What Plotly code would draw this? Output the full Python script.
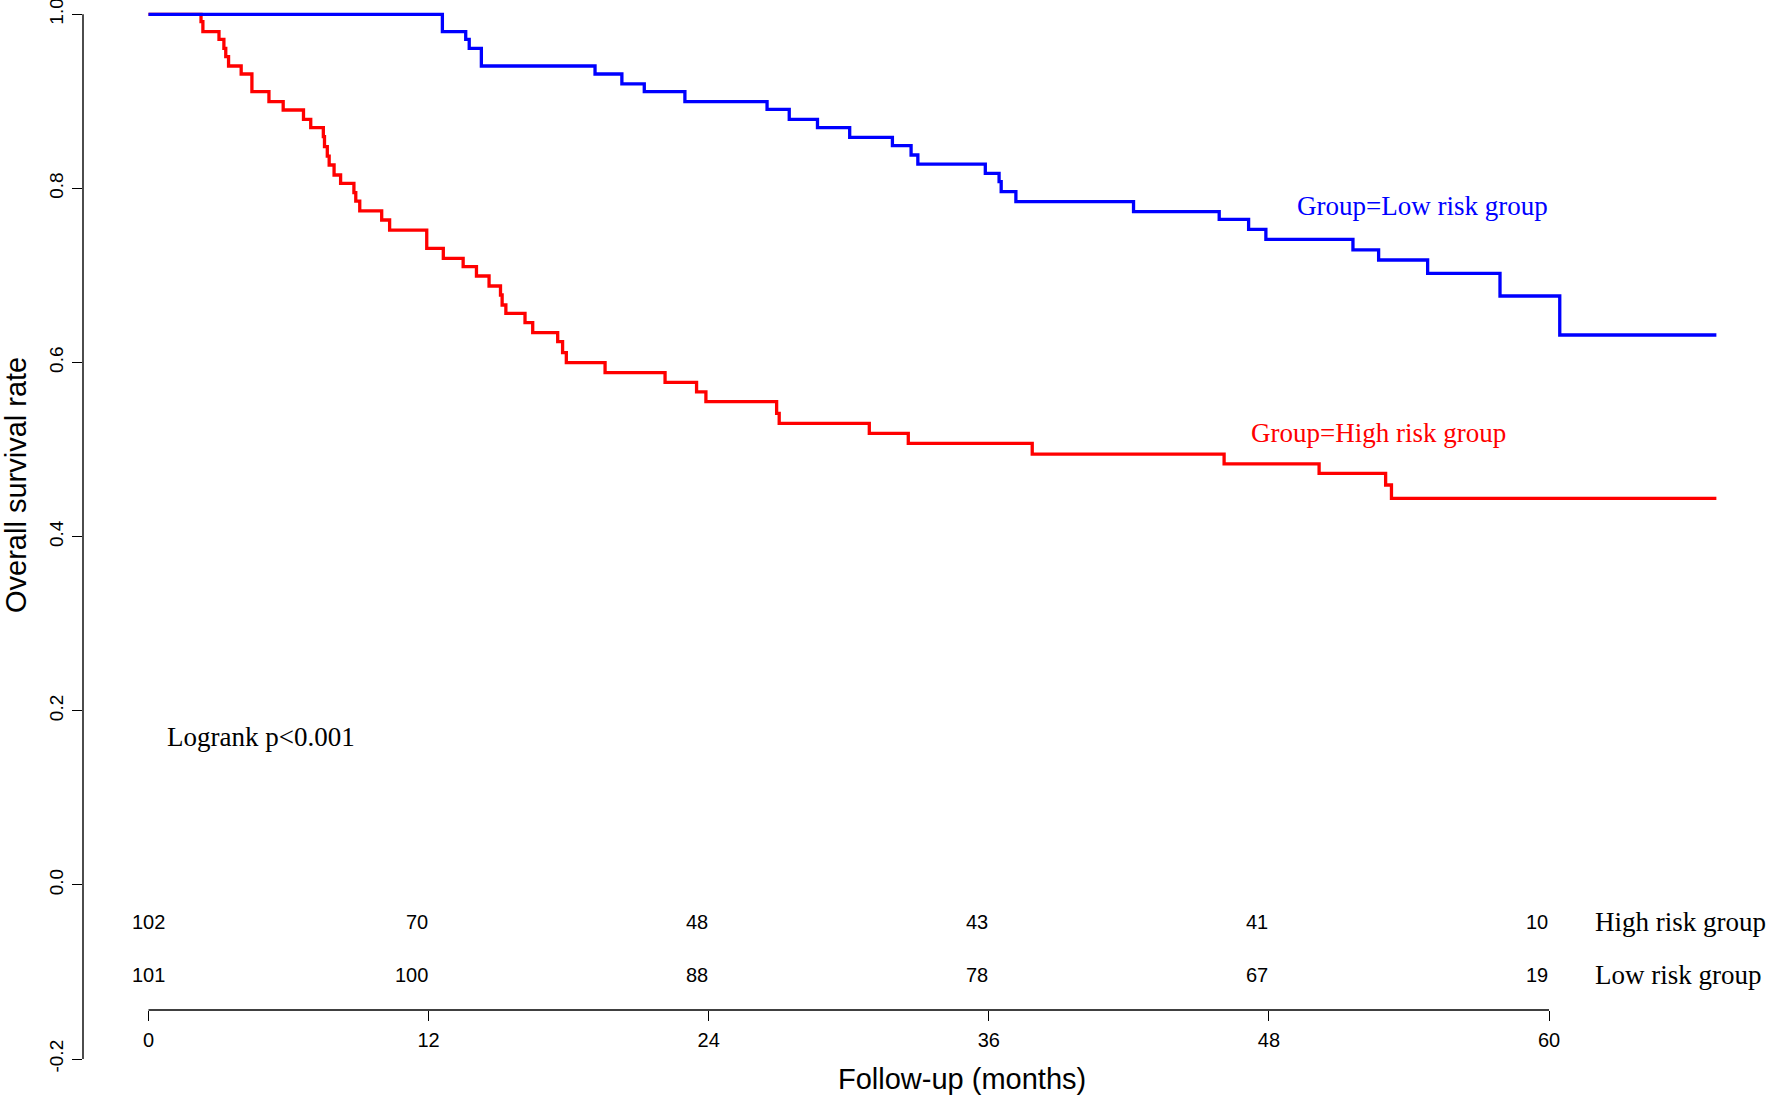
import plotly.graph_objects as go

# ---------------- data ----------------
month_ticks = [0, 12, 24, 36, 48, 60]
surv_ticks = [-0.2, 0.0, 0.2, 0.4, 0.6, 0.8, 1.0]
surv_tick_labels = ["-0.2", "0.0", "0.2", "0.4", "0.6", "0.8", "1.0"]

end_time = 67.17

high_time = [0, 2.25, 2.33, 3.02, 3.23, 3.31, 3.43, 3.97, 4.43, 5.16, 5.77, 6.64,
             6.95, 7.49, 7.54, 7.66, 7.74, 7.95, 8.23, 8.80, 8.88, 9.05, 9.99,
             10.33, 11.92, 12.63, 13.48, 14.05, 14.59, 15.08, 15.15, 15.31, 16.13,
             16.46, 17.53, 17.74, 17.90, 19.56, 22.13, 23.48, 23.88, 26.91, 27.02,
             30.88, 32.55, 37.86, 46.08, 50.15, 53.00, 53.25]
high_surv = [1.0, 0.9915, 0.980, 0.9712, 0.9609, 0.9513, 0.9406, 0.9314, 0.9111,
             0.8996, 0.8901, 0.8794, 0.8698, 0.8594, 0.8480, 0.8372, 0.8269, 0.8154,
             0.8058, 0.7951, 0.7855, 0.7741, 0.7637, 0.7522, 0.7312, 0.7197, 0.7101,
             0.6994, 0.6879, 0.6776, 0.6661, 0.6565, 0.6458, 0.6343, 0.6240, 0.6113,
             0.5998, 0.5883, 0.5773, 0.5662, 0.5550, 0.5417, 0.5300, 0.5187, 0.5072,
             0.4949, 0.4835, 0.4727, 0.4593, 0.4440]

low_time = [0, 12.59, 13.59, 13.74, 14.26, 19.13, 20.28, 21.24, 22.98, 26.50, 27.45,
            28.66, 30.04, 31.87, 32.67, 32.96, 35.85, 36.44, 36.53, 37.16, 42.20,
            45.87, 47.13, 47.87, 51.60, 52.70, 54.80, 57.90, 60.46]
low_surv = [1.0, 0.980, 0.9712, 0.9609, 0.9406, 0.9314, 0.920, 0.9111, 0.8996, 0.8908,
            0.8794, 0.8698, 0.8587, 0.8491, 0.8384, 0.8280, 0.8173, 0.8078, 0.7963,
            0.7848, 0.7733, 0.7645, 0.7530, 0.7415, 0.7293, 0.7178, 0.7025, 0.6764,
            0.6316]

group_names = ["High risk group", "Low risk group"]
high_at_risk = [102, 70, 48, 43, 41, 10]
low_at_risk = [101, 100, 88, 78, 67, 19]

# ---------------- styling ----------------
BLUE = "#0000FF"
RED = "#FF0000"
SANS = "Liberation Sans, Arial, sans-serif"
SERIF = "Liberation Serif, Times New Roman, serif"
W, H = 1772, 1098
ML = 83
XAXIS_PAPER_Y = 1 - 1010 / H

fig = go.Figure()

fig.add_trace(go.Scatter(
    x=high_time + [end_time], y=high_surv + [high_surv[-1]],
    mode="lines", line=dict(color=RED, width=3.3, shape="hv"),
    name="High risk group", hoverinfo="skip"))
fig.add_trace(go.Scatter(
    x=low_time + [end_time], y=low_surv + [low_surv[-1]],
    mode="lines", line=dict(color=BLUE, width=3.3, shape="hv"),
    name="Low risk group", hoverinfo="skip"))

annotations = []
# group labels on the curves
annotations.append(dict(x=49.1, y=0.780, xref="x", yref="y", text="Group=Low risk group",
                        showarrow=False, xanchor="left", yanchor="middle",
                        font=dict(family=SERIF, size=27, color=BLUE)))
annotations.append(dict(x=47.15, y=0.519, xref="x", yref="y", text="Group=High risk group",
                        showarrow=False, xanchor="left", yanchor="middle",
                        font=dict(family=SERIF, size=27, color=RED)))
annotations.append(dict(x=0.7, y=0.170, xref="x", yref="y", text="Logrank p<0.001",
                        showarrow=False, xanchor="left", yanchor="middle",
                        font=dict(family=SERIF, size=27, color="black")))

# number-at-risk table
row_y = [-0.0423, -0.1034]
for counts, ry, gname in zip([high_at_risk, low_at_risk], row_y, group_names):
    for t, c in zip(month_ticks, counts):
        annotations.append(dict(
            x=t, y=ry, xref="x", yref="y", text=str(c), showarrow=False,
            xanchor="center" if t == 0 else "right", yanchor="middle",
            xshift=0 if t == 0 else 1,
            font=dict(family=SANS, size=20, color="black")))
    annotations.append(dict(x=61.88, y=ry, xref="x", yref="y", text=gname,
                            showarrow=False, xanchor="left", yanchor="middle",
                            font=dict(family=SERIF, size=27, color="black")))

# axis titles
annotations.append(dict(x=34.85, y=1 - 1079 / H, xref="x", yref="paper",
                        text="Follow-up (months)", showarrow=False,
                        xanchor="center", yanchor="middle",
                        font=dict(family=SANS, size=29, color="black")))
annotations.append(dict(x=(16 - ML) / (W - ML), y=1 - 485 / H, xref="paper", yref="paper",
                        text="Overall survival rate", showarrow=False, textangle=-90,
                        xanchor="center", yanchor="middle",
                        font=dict(family=SANS, size=29, color="black")))

shapes = [
    # y axis line from -0.2 to 1.0
    dict(type="line", xref="paper", yref="y", x0=0, x1=0,
         y0=surv_ticks[0], y1=surv_ticks[-1], line=dict(color="black", width=1.4)),
    # x axis line from 0 to 60
    dict(type="line", xref="x", yref="paper", x0=month_ticks[0], x1=month_ticks[-1],
         y0=XAXIS_PAPER_Y, y1=XAXIS_PAPER_Y, line=dict(color="black", width=1.4)),
]

fig.update_layout(
    template="none",
    width=W, height=H,
    margin=dict(l=ML, r=0, t=0, b=0, pad=0, autoexpand=False),
    paper_bgcolor="white", plot_bgcolor="white",
    showlegend=False,
    xaxis=dict(range=[(ML - 148.5) / 23.342, (W - 148.5) / 23.342],
               anchor="free", position=XAXIS_PAPER_Y, automargin=False,
               showline=False, showgrid=False, zeroline=False,
               ticks="outside", ticklen=10, tickwidth=1.4, tickcolor="black",
               tickvals=month_ticks, ticktext=[str(m) for m in month_ticks],
               tickfont=dict(family=SANS, size=20, color="black"),
               ticklabelstandoff=2, ticklabeloverflow="allow"),
    yaxis=dict(range=[-0.2 - (H - 1059) / 870.6, 1.0 + 14.3 / 870.6],
               automargin=False,
               showline=False, showgrid=False, zeroline=False,
               ticks="outside", ticklen=10, tickwidth=1.4, tickcolor="black",
               tickvals=surv_ticks, ticktext=surv_tick_labels, tickangle=-90,
               tickfont=dict(family=SANS, size=19, color="black"),
               ticklabelstandoff=1, ticklabeloverflow="allow"),
    annotations=annotations,
    shapes=shapes,
)

fig.write_html(
    "out.html",
    config={"displayModeBar": False},
    post_script="document.body.style.margin='0';document.body.style.padding='0';"
                "document.body.style.overflow='hidden';",
)
